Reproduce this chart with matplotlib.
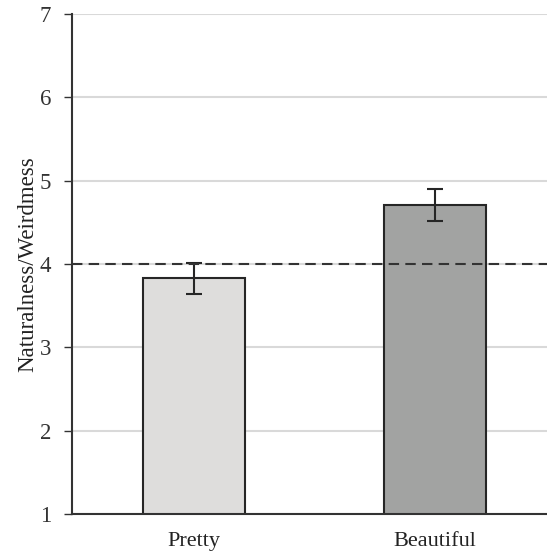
import matplotlib.pyplot as plt
import numpy as np

# Data
categories = ["Pretty", "Beautiful"]
means = [3.83, 4.71]
errors = [0.185, 0.19]
bar_colors = ["#dedddc", "#a2a3a2"]
reference_level = 4.0

plt.rcParams["font.family"] = ["Liberation Serif", "DejaVu Serif"]

fig = plt.figure(figsize=(5.47, 5.53), dpi=100)
ax = fig.add_axes([72 / 547, 39 / 553, 475 / 547, 500 / 553])

x = np.arange(len(categories))

# Grid lines behind the bars
ax.set_axisbelow(True)
ax.yaxis.grid(True, color="#d9d9d9", linewidth=1.5)

ax.bar(
    x,
    means,
    bottom=0,
    width=0.42,
    color=bar_colors,
    edgecolor="#262626",
    linewidth=1.5,
    zorder=2,
)
ax.errorbar(
    x,
    means,
    yerr=errors,
    fmt="none",
    ecolor="#262626",
    elinewidth=1.5,
    capsize=6,
    capthick=1.5,
    zorder=3,
)

ax.axhline(reference_level, color="#333333", linestyle=(0, (5, 3)), linewidth=1.5, zorder=4)

ax.set_ylim(1, 7)
ax.set_xlim(-0.506, 1.465)
ax.set_yticks(range(1, 8))
ax.set_xticks(x, labels=categories)
ax.set_ylabel("Naturalness/Weirdmess", fontsize=16.5, color="#222222", labelpad=1)

ax.tick_params(axis="y", labelsize=16.5, length=6, width=1, color="#333333",
               labelcolor="#333333", pad=9)
ax.tick_params(axis="x", labelsize=16, length=0, labelcolor="#222222", pad=13)

ax.spines.right.set_visible(False)
ax.spines.top.set_visible(False)
ax.spines.left.set_color("#333333")
ax.spines.bottom.set_color("#333333")
ax.spines.left.set_linewidth(1.5)
ax.spines.bottom.set_linewidth(1.5)

plt.savefig("out.png", dpi=100)
